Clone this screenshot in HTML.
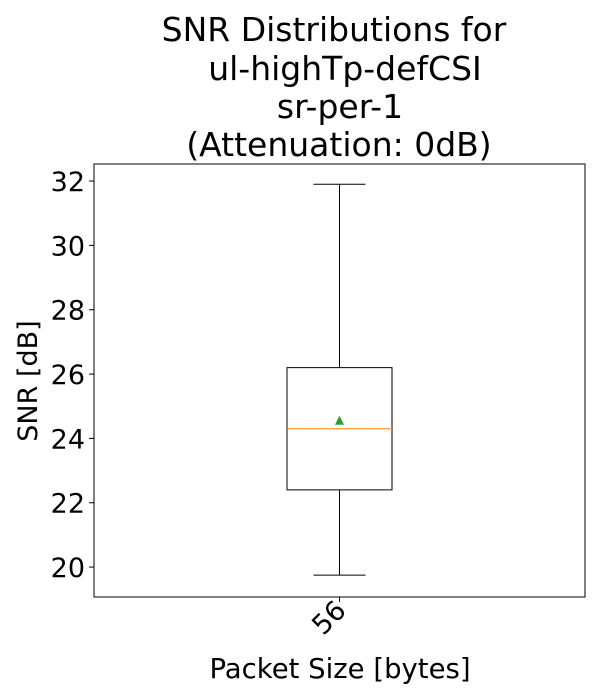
<!DOCTYPE html>
<html><head><meta charset="utf-8"><style>
body{margin:0;background:#fff;}
svg{display:block;font-family:"DejaVu Sans","Liberation Sans",sans-serif;}
</style></head><body>
<svg id="chart" width="600" height="700">
<g font-size="33" text-anchor="middle" fill="#000">
<text x="334" y="41">SNR Distributions for</text>
<text x="345" y="80">ul-highTp-defCSI</text>
<text x="340" y="118">sr-per-1</text>
<text x="339" y="156">(Attenuation: 0dB)</text>
</g>
<rect x="94" y="164" width="491" height="433" fill="none" stroke="#000" stroke-width="1"/>
<g id="yaxis"></g>
<g id="marks"></g>
<g id="xaxis"></g>
<text transform="translate(37,381) rotate(-90)" font-size="27" text-anchor="middle">SNR [dB]</text>
<text x="340" y="678" font-size="27.5" text-anchor="middle">Packet Size [bytes]</text>
</svg>
<script>
const categories=["56"];
const whiskerLow=[19.75];
const q1=[22.4];
const median=[24.3];
const q3=[26.2];
const whiskerHigh=[31.9];
const means=[24.55];
const yTicks=[20,22,24,26,28,30,32];
const NS="http://www.w3.org/2000/svg";
const y0=164,y1=597,dMin=19.07,dMax=32.53;
function y(v){return y1-(v-dMin)/(dMax-dMin)*(y1-y0);}
function x(i){return 94+(i+0.5)*491/categories.length;}
function mk(t,a,p){const e=document.createElementNS(NS,t);for(const k in a)e.setAttribute(k,a[k]);p.appendChild(e);return e;}
const ya=document.getElementById('yaxis');
yTicks.forEach(v=>{
 const l=mk('line',{x1:89,x2:94,y1:y(v),y2:y(v),stroke:'#000'},ya);
 
 
 const t=mk('text',{x:85,y:y(v)+10,'font-size':27,'text-anchor':'end'},ya);
 t.textContent=v;
 
 
});
const m=document.getElementById('marks'),xa=document.getElementById('xaxis');
categories.forEach((c,i)=>{
 const cx=x(i),hw=52.5,cw=26;
 const g=mk('g',{},m);
 
 
 mk('line',{x1:cx,x2:cx,y1:y(q1[i]),y2:y(whiskerLow[i]),stroke:'#000'},g);
 mk('line',{x1:cx,x2:cx,y1:y(q3[i]),y2:y(whiskerHigh[i]),stroke:'#000'},g);
 mk('line',{x1:cx-cw,x2:cx+cw,y1:y(whiskerLow[i]),y2:y(whiskerLow[i]),stroke:'#000'},g);
 mk('line',{x1:cx-cw,x2:cx+cw,y1:y(whiskerHigh[i]),y2:y(whiskerHigh[i]),stroke:'#000'},g);
 mk('rect',{x:cx-hw,y:y(q3[i]),width:2*hw,height:y(q1[i])-y(q3[i]),fill:'none',stroke:'#000'},g);
 mk('line',{x1:cx-hw,x2:cx+hw,y1:y(median[i]),y2:y(median[i]),stroke:'#ff7f0e'},g);
 const my=y(means[i]);
 mk('polygon',{points:`${cx},${my-5} ${cx-4.5},${my+4} ${cx+4.5},${my+4}`,fill:'#2ca02c'},g);
 mk('line',{x1:cx,x2:cx,y1:597,y2:602,stroke:'#000'},xa);
 const t=mk('text',{transform:`translate(${cx+8},${612}) rotate(-45)`,'font-size':27,'text-anchor':'end'},xa);
 t.textContent=c;
 
 
});
</script>
</body></html>
